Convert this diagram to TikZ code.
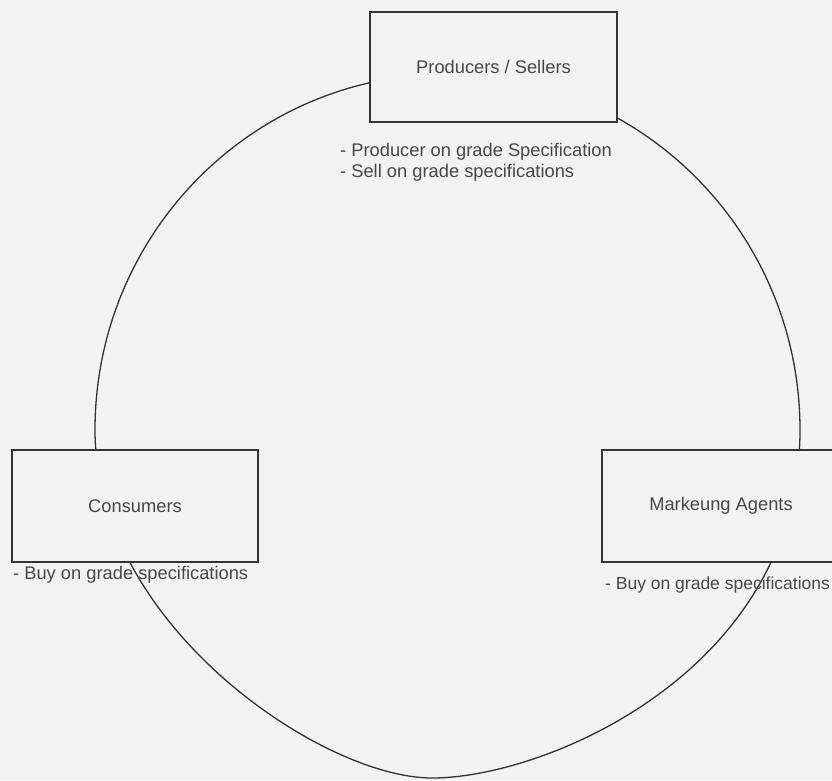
\documentclass[tikz,border=0pt]{standalone}
\usepackage{fontspec}
\setmainfont{Liberation Serif}
\newfontfamily\lsans{Liberation Sans}
\definecolor{paper}{gray}{0.95}
\definecolor{ink}{gray}{0.2}
\definecolor{txt}{gray}{0.28}
\tikzset{
  box/.style={draw=ink, line width=1.8pt, fill=paper, text=txt,
    font=\lsans\fontsize{18.3}{21}\selectfont, inner sep=0pt},
  lab/.style={text=txt, font=\lsans\fontsize{18.3}{21}\selectfont,
    inner sep=0pt, anchor=west, align=left},
  ring/.style={draw=ink, line width=1.3pt},
}
\begin{document}
\begin{tikzpicture}[x=1pt,y=-1pt]
\useasboundingbox (0,0) rectangle (832,780);
\clip (0,0) rectangle (832,780);
\fill[paper] (0,0) rectangle (832,780);

% the cycle
\coordinate (L) at (95,430);
\coordinate (R) at (800,430);
\coordinate (B) at (432,778);
\draw[ring] (L) arc[start angle=180, end angle=360, x radius=352.5, y radius=356]
  .. controls (800,670) and (547,778) .. (B)
  .. controls (322,778) and (95,625) .. (L) -- cycle;

% boxes
\node[box, minimum width=247pt, minimum height=110pt] (prod) at (493.5,67) {Producers / Sellers};
\node[box, minimum width=246pt, minimum height=112pt] (cons) at (135,506) {Consumers};
\node[box, minimum width=238pt, minimum height=112pt] (mark) at (721,506) {Markeung Agents};

% labels
\node[lab] (prodlab) at (340,162.5) {- Producer on grade Specification\\- Sell on grade specifications};
\node[lab] (conslab) at (13,575) {- Buy on grade specifications};
\node[lab, font=\lsans\fontsize{17.5}{21}\selectfont] (marklab) at (605,585) {- Buy on grade specifications};
\end{tikzpicture}
\end{document}
